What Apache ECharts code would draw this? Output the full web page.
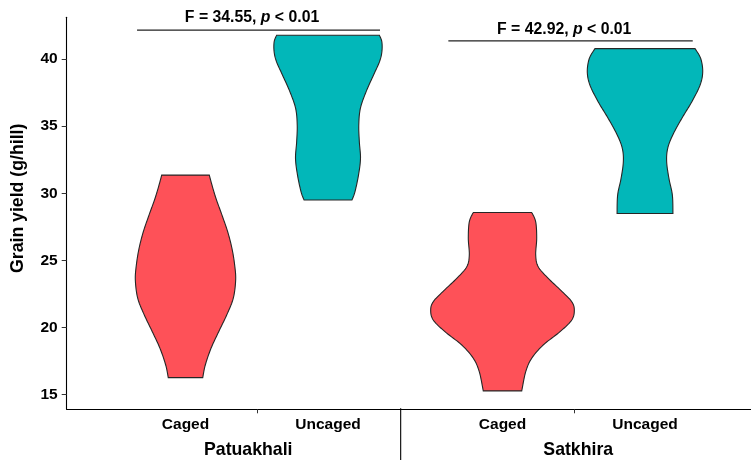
<!DOCTYPE html>
<html><head><meta charset="utf-8">
<script src="https://cdn.jsdelivr.net/npm/echarts@6/dist/echarts.min.js"></script>
<style>html,body{margin:0;padding:0;background:#fff}#c{width:751px;height:460px}</style>
</head><body><div id="c"></div>
<script>
// ---------- data ----------
const sites = ['Patuakhali', 'Satkhira'];
const treatments = ['Caged', 'Uncaged'];
const yTicks = [15, 20, 25, 30, 35, 40];
const yRange = [13.91, 43.10];

// violin outlines: yield levels (g/hill) and half-widths (category units)
const patCagedY = [31.35, 30.60, 29.61, 28.37, 27.13, 25.89, 24.65, 23.53, 22.17, 20.93, 19.69, 18.45, 17.21, 16.27];
const patCagedW = [0.167, 0.186, 0.214, 0.256, 0.296, 0.326, 0.345, 0.352, 0.335, 0.289, 0.233, 0.179, 0.139, 0.121];
const patUncagedY = [41.76, 41.27, 40.52, 39.78, 38.79, 37.55, 36.31, 35.07, 33.82, 32.59, 31.35, 30.10, 29.49];
const patUncagedW = [0.361, 0.378, 0.378, 0.361, 0.319, 0.267, 0.227, 0.216, 0.220, 0.228, 0.214, 0.189, 0.168];
const satCagedY = [28.57, 27.87, 26.64, 25.39, 24.52, 23.66, 22.66, 21.92, 21.30, 20.56, 19.69, 18.70, 17.71, 16.71, 15.28];
const satCagedW = [0.205, 0.233, 0.240, 0.233, 0.251, 0.321, 0.420, 0.486, 0.504, 0.486, 0.404, 0.286, 0.205, 0.163, 0.135];
const satUncagedY = [40.77, 40.03, 39.03, 38.04, 36.80, 35.57, 34.32, 33.33, 32.34, 31.10, 29.86, 28.49];
const satUncagedW = [0.351, 0.391, 0.405, 0.386, 0.328, 0.258, 0.194, 0.159, 0.152, 0.168, 0.192, 0.196];

// ANOVA annotations per site
const fValues = ['34.55', '42.92'];
const pText = '< 0.01';
const bracketStart = [0.66, 0.62];
const bracketEnd = [2.365, 2.335];
const bracketLevel = [42.14, 41.34];
const labelCenter = [1.467, 1.433];
const labelLevel = [43.07, 42.19];

// ---------- styles ----------
const FONT = '"Liberation Sans", Arial, Helvetica, sans-serif';
const RED = '#FE5158';
const TEAL = '#02B7B9';

function spline(pts, n) {
  const out = [];
  for (let i = 0; i < pts.length - 1; i++) {
    const p0 = pts[Math.max(i - 1, 0)], p1 = pts[i], p2 = pts[i + 1], p3 = pts[Math.min(i + 2, pts.length - 1)];
    for (let k = 0; k < n; k++) {
      const t = k / n, t2 = t * t, t3 = t2 * t;
      const f = j => 0.5 * (2 * p1[j] + (-p0[j] + p2[j]) * t + (2 * p0[j] - 5 * p1[j] + 4 * p2[j] - p3[j]) * t2 + (-p0[j] + 3 * p1[j] - 3 * p2[j] + p3[j]) * t3);
      out.push([f(0), f(1)]);
    }
  }
  out.push(pts[pts.length - 1]);
  return out;
}

function violin(gridIdx, treatment, ys, ws, color) {
  const xPos = treatments.indexOf(treatment) + 1;
  return {
    type: 'custom', xAxisIndex: gridIdx, yAxisIndex: gridIdx, silent: true, clip: false,
    data: [[xPos, ys[0]]],
    renderItem(params, api) {
      const right = ys.map((y, i) => api.coord([xPos + ws[i], y]));
      const left = ys.map((y, i) => api.coord([xPos - ws[i], y]));
      const pts = spline(right, 10).concat(spline(left, 10).reverse());
      return { type: 'polygon', shape: { points: pts }, style: { fill: color, stroke: '#262626', lineWidth: 1.1 } };
    }
  };
}

function bracket(gridIdx, s) {
  return {
    type: 'custom', xAxisIndex: gridIdx, yAxisIndex: gridIdx, silent: true, clip: false,
    data: [[bracketStart[s], bracketEnd[s], bracketLevel[s], labelCenter[s], labelLevel[s]]],
    renderItem(params, api) {
      const a = api.coord([api.value(0), api.value(2)]);
      const b = api.coord([api.value(1), api.value(2)]);
      const t = api.coord([api.value(3), api.value(4)]);
      return {
        type: 'group', children: [
          { type: 'line', shape: { x1: a[0], y1: a[1], x2: b[0], y2: b[1] }, style: { stroke: '#222', lineWidth: 1.2 } },
          { type: 'text', x: t[0], y: t[1], style: {
              text: '{b|F = ' + fValues[s] + ', }{i|p}{b| ' + pText + '}',
              align: 'center', verticalAlign: 'middle',
              rich: {
                b: { fontFamily: FONT, fontWeight: 'bold', fontSize: 15.8, fill: '#000' },
                i: { fontFamily: FONT, fontWeight: 'bold', fontStyle: 'italic', fontSize: 15.8, fill: '#000' }
              }
          } }
        ]
      };
    }
  };
}

const gridTop = 17.3, gridBottom = 50.7;
const facetAxis = (s) => ({
  gridIndex: s + 1, type: 'value', min: 0.5, max: 2.5,
  axisLine: { show: false, onZero: false },
  axisTick: { show: true, customValues: [1.5], length: 4, lineStyle: { color: '#333', width: 1 } },
  axisLabel: { customValues: [1, 2], formatter: v => treatments[Math.round(v) - 1], margin: 7,
    color: '#000', fontFamily: FONT, fontWeight: 'bold', fontSize: 15.5 },
  splitLine: { show: false },
  name: sites[s], nameLocation: 'middle', nameGap: 32,
  nameTextStyle: { color: '#000', fontFamily: FONT, fontWeight: 'bold', fontSize: 17.7,
    padding: s === 0 ? [0, 17, 0, 0] : [0, 0, 0, 9] }
});
const hiddenY = (g) => ({ gridIndex: g, type: 'value', min: yRange[0], max: yRange[1], show: false, splitLine: { show: false } });

const chart = echarts.init(document.getElementById('c'), null, { renderer: 'canvas' });
chart.setOption({
  backgroundColor: '#fff',
  animation: false,
  grid: [
    { left: 66.7, right: 0, top: gridTop, bottom: gridBottom, outerBoundsMode: 'none' },
    { left: 114.25, width: 285, top: gridTop, bottom: gridBottom, outerBoundsMode: 'none' },
    { left: 431.25, width: 285, top: gridTop, bottom: gridBottom, outerBoundsMode: 'none' }
  ],
  xAxis: [
    { gridIndex: 0, type: 'value', min: 0, max: 1, axisLine: { show: true, onZero: false, lineStyle: { color: '#000', width: 1.1 } },
      axisTick: { show: false }, axisLabel: { show: false }, splitLine: { show: false } },
    facetAxis(0), facetAxis(1)
  ],
  yAxis: [
    { gridIndex: 0, type: 'value', min: yRange[0], max: yRange[1],
      axisLine: { show: true, lineStyle: { color: '#000', width: 1.1 } },
      axisTick: { show: true, customValues: yTicks, length: 5, lineStyle: { color: '#333', width: 1 } },
      axisLabel: { customValues: yTicks, margin: 9, color: '#000', fontFamily: FONT, fontWeight: 'bold', fontSize: 15.5 },
      splitLine: { show: false },
      name: 'Grain yield (g/hill)', nameLocation: 'middle', nameGap: 40,
      nameTextStyle: { color: '#000', fontFamily: FONT, fontWeight: 'bold', fontSize: 17.7, padding: [0, 0, 0, 30] } },
    hiddenY(1), hiddenY(2)
  ],
  series: [
    violin(1, 'Caged', patCagedY, patCagedW, RED),
    violin(1, 'Uncaged', patUncagedY, patUncagedW, TEAL),
    violin(2, 'Caged', satCagedY, satCagedW, RED),
    violin(2, 'Uncaged', satUncagedY, satUncagedW, TEAL),
    bracket(1, 0),
    bracket(2, 1)
  ]
});
// facet separator below the x axis
const sepX = chart.convertToPixel({ xAxisIndex: 1 }, 2.51);
const axisY = chart.convertToPixel({ yAxisIndex: 0 }, yRange[0]);
chart.setOption({ graphic: [{ type: 'line', silent: true,
  shape: { x1: sepX, y1: axisY - 1, x2: sepX, y2: 460 }, style: { stroke: '#000', lineWidth: 1.1 } }] });
</script></body></html>
